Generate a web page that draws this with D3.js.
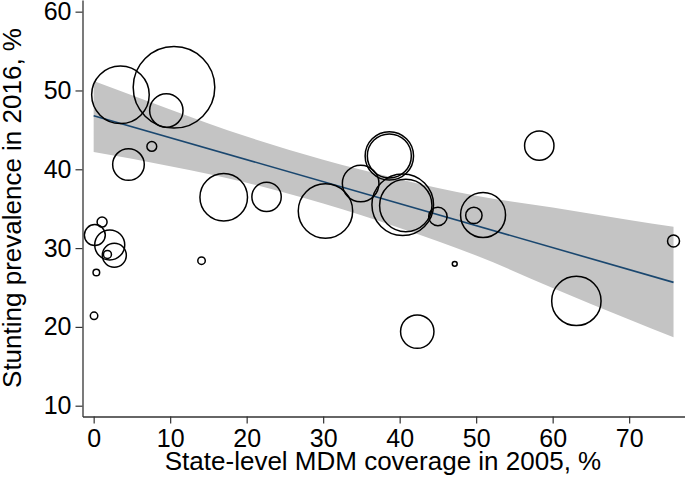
<!DOCTYPE html>
<html>
<head>
<meta charset="utf-8">
<script src="https://cdn.jsdelivr.net/npm/d3@7"></script>
<style>
  html, body { margin: 0; padding: 0; background: #fff; }
  svg { display: block; font-family: "Liberation Sans", Arial, sans-serif; }
</style>
</head>
<body>
<svg id="chart" width="685" height="484"></svg>
<script>
// ---- Data ----
// State-level MDM coverage in 2005 (%)
const coverage = [3.5, 10.5, 9.5, 7.6, 4.55, 17.0, 1.1, 0.15, 2.1, 2.7, 1.8, 0.35, 0.05, 14.1,
                  22.6, 30.3, 34.9, 38.65, 38.65, 40.4, 40.8, 45.0, 47.2, 58.25, 50.9, 49.7, 63.1, 75.8, 42.3];
// Stunting prevalence in 2016 (%)
const stunting = [49.45, 50.4, 47.45, 42.9, 40.6, 36.45, 33.3, 31.65, 30.4, 29.1, 29.2, 26.9, 21.4, 28.4,
                  36.5, 34.7, 38.2, 41.7, 41.7, 35.5, 35.4, 34.0, 28.0, 43.0, 34.2, 34.15, 23.3, 30.9, 19.4];
// Bubble size weight (state population weight)
const weight = [82.9, 166.5, 27.9, 2.4, 25.0, 56.6, 2.5, 11.0, 22.5, 14.4, 1.6, 1.1, 1.4, 1.4,
                21.6, 74.0, 33.5, 58.6, 48.4, 94.9, 68.6, 8.5, 0.6, 21.6, 50.6, 6.7, 61.0, 3.6, 27.9];

// Fitted line endpoints
const fitX = [0, 75.8];
const fitY = [46.8, 25.65];

// 95% CI band
const bandX     = [0,    10,   20,    30,    40,    50,    60,    70,    75.8];
const bandUpper = [51.2, 47.6, 44.15, 41.2,  38.75, 36.65, 35.15, 33.55, 32.7];
const bandLower = [42.2, 40.4, 38.3,  35.65, 32.55, 29.05, 24.95, 20.95, 18.7];

// Tick labels
const xTicks = [0, 10, 20, 30, 40, 50, 60, 70];
const yTicks = [10, 20, 30, 40, 50, 60];

const xTitle = "State-level MDM coverage in 2005, %";
const yTitle = "Stunting prevalence in 2016, %";

// ---- Chart ----
const svg = d3.select("#chart");
const mLeft = 82.5, mRight = 685, mTop = 0, mBottom = 416.5;

const x = d3.scaleLinear().domain([-1.46, 77.3]).range([mLeft, mRight]);
const y = d3.scaleLinear().domain([8.63, 61.48]).range([mBottom, mTop]);
const r = d3.scaleSqrt().domain([0, d3.max(weight)]).range([0, 40.8]);

const band = bandX.map((v, i) => ({x: v, lo: bandLower[i], hi: bandUpper[i]}));
svg.append("path")
  .datum(band)
  .attr("fill", "#c4c4c4")
  .attr("d", d3.area()
    .x(d => x(d.x))
    .y0(d => y(d.lo))
    .y1(d => y(d.hi))
    .curve(d3.curveMonotoneX));

const fit = fitX.map((v, i) => ({x: v, y: fitY[i]}));
svg.append("path")
  .datum(fit)
  .attr("fill", "none")
  .attr("stroke", "#1a476f")
  .attr("stroke-width", 1.6)
  .attr("d", d3.line().x(d => x(d.x)).y(d => y(d.y)));

const pts = coverage.map((v, i) => ({x: v, y: stunting[i], w: weight[i]}));
svg.append("g")
  .selectAll("circle")
  .data(pts)
  .join("circle")
  .attr("cx", d => x(d.x))
  .attr("cy", d => y(d.y))
  .attr("r", d => r(d.w))
  .attr("fill", "none")
  .attr("stroke", "#000")
  .attr("stroke-width", 1.5);

// Axes
const xAxis = svg.append("g")
  .attr("transform", `translate(0,${mBottom})`)
  .call(d3.axisBottom(x).tickValues(xTicks).tickSize(7).tickSizeOuter(0).tickPadding(6).tickFormat(d3.format("d")));
const yAxis = svg.append("g")
  .attr("transform", `translate(${mLeft},0)`)
  .call(d3.axisLeft(y).tickValues(yTicks).tickSize(7).tickSizeOuter(0).tickPadding(4).tickFormat(d3.format("d")));

[xAxis, yAxis].forEach(g => {
  g.select(".domain").attr("stroke", "#333").attr("stroke-width", 1.3);
  g.selectAll(".tick line").attr("stroke", "#333").attr("stroke-width", 1.2);
  g.selectAll(".tick text").attr("fill", "#000").style("font-size", "25px")
    .style("font-family", '"Liberation Sans", Arial, sans-serif');
});

svg.append("text")
  .attr("x", 383)
  .attr("y", 470)
  .attr("text-anchor", "middle")
  .style("font-size", "26px")
  .attr("fill", "#000")
  .text(xTitle);

svg.append("text")
  .attr("transform", "translate(21,208) rotate(-90)")
  .attr("text-anchor", "middle")
  .style("font-size", "26px")
  .attr("fill", "#000")
  .text(yTitle);
</script>
</body>
</html>
